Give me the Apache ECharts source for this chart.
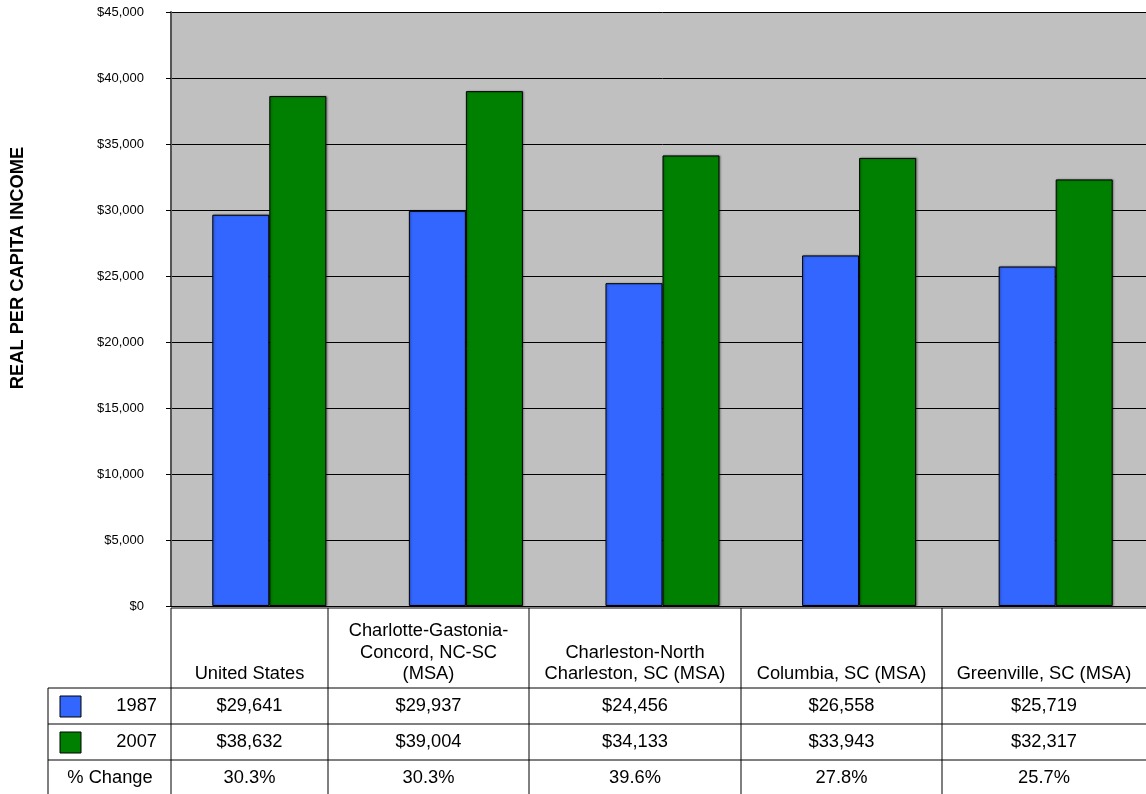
<!DOCTYPE html>
<html><head><meta charset="utf-8">
<script src="https://cdn.jsdelivr.net/npm/echarts@6/dist/echarts.min.js"></script>
<style>html,body{margin:0;padding:0;background:#fff;overflow:hidden}#c{width:1160px;height:794px}</style>
</head><body><div id="c"></div>
<script>
const categories = ["United States", "Charlotte-Gastonia-\nConcord, NC-SC\n(MSA)", "Charleston-North\nCharleston, SC (MSA)", "Columbia, SC (MSA)", "Greenville, SC (MSA)"];
const seriesNames = ["1987", "2007"];
const values1987 = [29641, 29937, 24456, 26558, 25719];
const values2007 = [38632, 39004, 34133, 33943, 32317];
const pctChange = ["30.3%", "30.3%", "39.6%", "27.8%", "25.7%"];
const yTicks = [0, 5000, 10000, 15000, 20000, 25000, 30000, 35000, 40000, 45000];

const colors = ['#3366FF', '#008000'];
const fmt = v => '$' + v.toLocaleString('en-US');
const font = 'Arial, "Liberation Sans", sans-serif';
const tf = '18.3px ' + font;

const chart = echarts.init(document.getElementById('c'), null, {renderer: 'canvas'});

// table layout constants
const colX = [171, 328, 529, 741, 942, 1160];
const rowY = [608, 688, 724, 760, 800];
const leftX = 48;
const viewW = 1146;

const g = [];
colX.forEach((x) => {
  g.push({type: 'line', shape: {x1: x, y1: rowY[0], x2: x, y2: 794}, style: {stroke: '#000', lineWidth: 1}});
});
g.push({type: 'line', shape: {x1: leftX, y1: rowY[1], x2: leftX, y2: 794}, style: {stroke: '#000', lineWidth: 1}});
[1, 2, 3].forEach(r => {
  g.push({type: 'line', shape: {x1: leftX, y1: rowY[r], x2: 1160, y2: rowY[r]}, style: {stroke: '#000', lineWidth: 1}});
});
g.push({type: 'line', shape: {x1: colX[0], y1: rowY[0], x2: 1160, y2: rowY[0]}, style: {stroke: '#000', lineWidth: 1}});
categories.forEach((c, i) => {
  const cx = (colX[i] + Math.min(colX[i + 1], viewW)) / 2;
  g.push({type: 'text', x: cx, y: 685, style: {text: c, font: tf, fill: '#000', align: 'center', verticalAlign: 'bottom', lineHeight: 21.5}});
});
const rows = [values1987.map(fmt), values2007.map(fmt), pctChange];
rows.forEach((r, ri) => {
  const cy = (rowY[ri + 1] + rowY[ri + 2]) / 2;
  r.forEach((t, i) => {
    const cx = (colX[i] + Math.min(colX[i + 1], viewW)) / 2;
    g.push({type: 'text', x: cx, y: ri === 2 ? 778 : cy, style: {text: t, font: tf, fill: '#000', align: 'center', verticalAlign: 'middle'}});
  });
});
seriesNames.forEach((n, i) => {
  const cy = (rowY[i + 1] + rowY[i + 2]) / 2;
  g.push({type: 'rect', shape: {x: 60, y: cy - 10, width: 21, height: 21}, style: {fill: colors[i], stroke: '#000', lineWidth: 1}});
  g.push({type: 'text', x: 157, y: cy, style: {text: n, font: tf, fill: '#000', align: 'right', verticalAlign: 'middle'}});
});
g.push({type: 'text', x: 110, y: 778, style: {text: '% Change', font: tf, fill: '#000', align: 'center', verticalAlign: 'middle'}});
g.push({type: 'text', x: 18, y: 268, rotation: Math.PI / 2, style: {text: 'REAL PER CAPITA INCOME', font: 'bold 18.3px ' + font, fill: '#000', align: 'center', verticalAlign: 'middle'}});

const barStyle = c => ({color: c, borderColor: '#000', borderWidth: 1, shadowColor: 'rgba(0,0,0,0.35)', shadowBlur: 2, shadowOffsetX: 1, shadowOffsetY: 0});

chart.setOption({
  animation: false,
  grid: {left: 171, top: 12, width: 983, height: 594, show: true, backgroundColor: '#C0C0C0', borderWidth: 0},
  xAxis: {
    type: 'category', data: categories,
    axisLabel: {show: false}, axisTick: {show: false},
    axisLine: {show: true, lineStyle: {color: '#000', width: 1}}
  },
  yAxis: {
    type: 'value', min: yTicks[0], max: yTicks[yTicks.length - 1], interval: 5000,
    axisLabel: {formatter: v => fmt(v), fontSize: 13, color: '#000', fontFamily: font, margin: 27},
    axisTick: {show: true, length: 5, inside: false, lineStyle: {color: '#000'}},
    axisLine: {show: true, lineStyle: {color: '#555', width: 2}},
    splitLine: {show: true, lineStyle: {color: '#000', width: 1}}
  },
  series: [
    {name: seriesNames[0], type: 'bar', data: values1987, barWidth: '29%', barGap: '0%', itemStyle: barStyle(colors[0])},
    {name: seriesNames[1], type: 'bar', data: values2007, barWidth: '29%', barGap: '0%', itemStyle: barStyle(colors[1])}
  ],
  graphic: g
});
</script>
</body></html>
